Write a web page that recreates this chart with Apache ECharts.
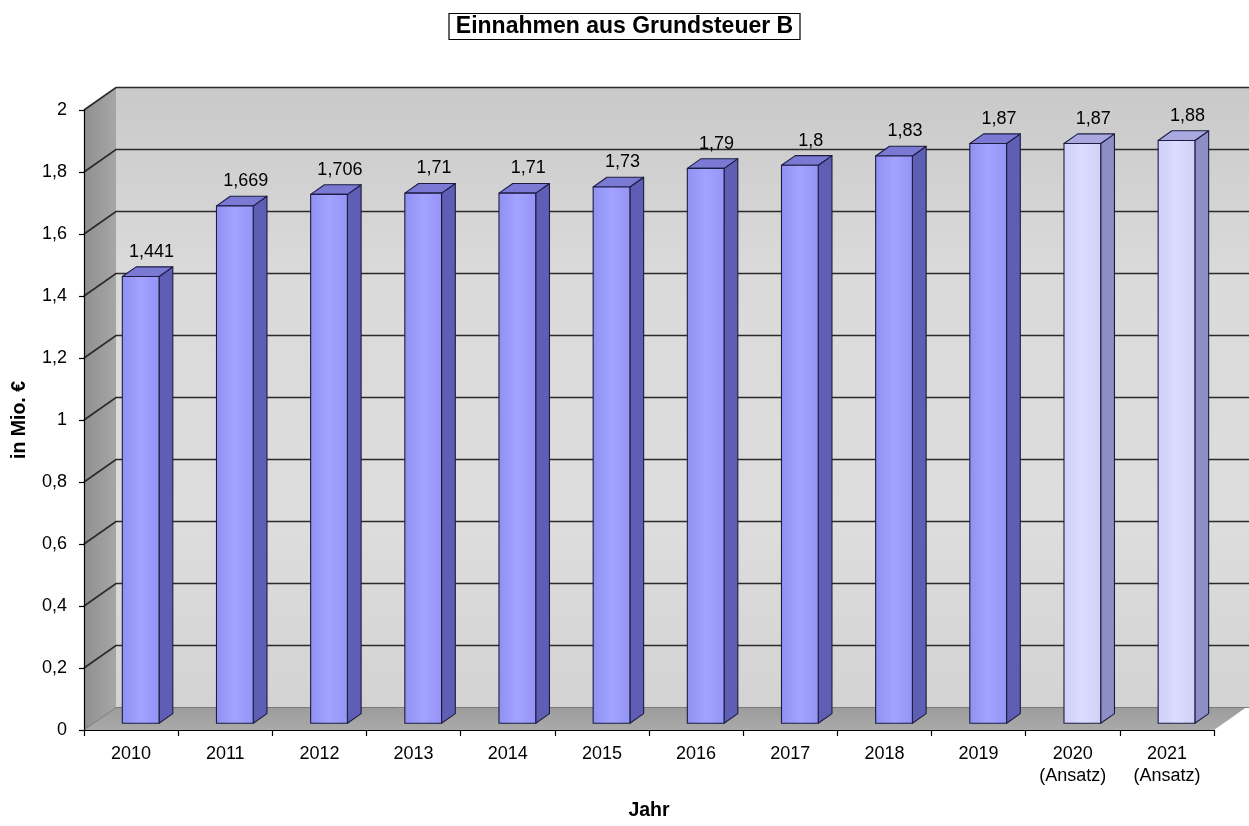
<!DOCTYPE html>
<html>
<head>
<meta charset="utf-8">
<title>Einnahmen aus Grundsteuer B</title>
<script src="https://cdn.jsdelivr.net/npm/echarts@6/dist/echarts.min.js"></script>
<style>
  html, body { margin: 0; padding: 0; background: #ffffff; }
  #chart { width: 1249px; height: 826px; }
</style>
</head>
<body>
<div id="chart"></div>
<script>
// Years (the last two are planned figures)
const years = ['2010', '2011', '2012', '2013', '2014', '2015', '2016', '2017', '2018', '2019', '2020\n(Ansatz)', '2021\n(Ansatz)'];
// Revenue in millions of euros
const revenue = [1.441, 1.669, 1.706, 1.71, 1.71, 1.73, 1.79, 1.8, 1.83, 1.87, 1.87, 1.88];
// Planned (budgeted) years are drawn in a lighter shade
const planned = [false, false, false, false, false, false, false, false, false, false, true, true];
// Value axis ticks
const yTickValues = [0, 0.2, 0.4, 0.6, 0.8, 1, 1.2, 1.4, 1.6, 1.8, 2];

const FONT = '"Liberation Sans", Arial, sans-serif';
const fmt = v => String(+(+v).toFixed(3)).replace('.', ',');

// Pseudo-3D depth offset of the back wall (pixels)
const DX = 32, DY = -22.5;
// Column depth position (fraction of the depth) and width (fraction of the band)
const BAR_FRONT = 0.3, BAR_BACK = 0.73, BAR_WIDTH = 0.39;

const actualColors = {
  front: new echarts.graphic.LinearGradient(0, 0, 1, 0, [
    { offset: 0, color: '#9090f2' }, { offset: 0.5, color: '#a2a2ff' }, { offset: 1, color: '#9494f6' }
  ]),
  side: '#5e5eb4', top: '#7a7ad4'
};
const plannedColors = {
  front: new echarts.graphic.LinearGradient(0, 0, 1, 0, [
    { offset: 0, color: '#cfcff8' }, { offset: 0.5, color: '#dcdcff' }, { offset: 1, color: '#d0d0f8' }
  ]),
  side: '#8e8ec6', top: '#a9a9e0'
};
const EDGE = '#1c1c40';

// Walls, floor and grid lines of the 3D box
function renderFrame(params, api) {
  const cs = params.coordSys;
  const x0 = cs.x, x1 = cs.x + cs.width;
  const yB = api.coord([0, yTickValues[0]])[1];
  const yT = api.coord([0, yTickValues[yTickValues.length - 1]])[1];
  const children = [];
  children.push({
    type: 'polygon',
    shape: { points: [[x0, yB], [x1, yB], [x1 + DX, yB + DY], [x0 + DX, yB + DY]] },
    style: { fill: new echarts.graphic.LinearGradient(0, 0, 0, 1, [
      { offset: 0, color: '#9c9c9c' }, { offset: 1, color: '#aaaaaa' }
    ]) }
  });
  children.push({
    type: 'polygon',
    shape: { points: [[x0 + DX, yT + DY], [x1 + DX + 10, yT + DY], [x1 + DX + 10, yB + DY], [x0 + DX, yB + DY]] },
    style: { fill: new echarts.graphic.LinearGradient(0, 0, 0, 1, [
      { offset: 0, color: '#c9c9c9' }, { offset: 0.3, color: '#dadada' },
      { offset: 0.7, color: '#dddddd' }, { offset: 1, color: '#d3d3d3' }
    ]) }
  });
  children.push({
    type: 'polygon',
    shape: { points: [[x0, yB], [x0, yT], [x0 + DX, yT + DY], [x0 + DX, yB + DY]] },
    style: { fill: new echarts.graphic.LinearGradient(0, 0, 1, 0, [
      { offset: 0, color: '#909090' }, { offset: 1, color: '#a6a6a6' }
    ]) }
  });
  yTickValues.forEach((v, k) => {
    const y = api.coord([0, v])[1];
    children.push({
      type: 'polyline',
      shape: { points: [[x0, y], [x0 + DX, y + DY], [x1 + DX + 10, y + DY]] },
      style: { stroke: k === 0 ? '#7a7a7a' : '#2a2a2a', lineWidth: k === 0 ? 1 : 1.7, fill: null }
    });
  });
  return { type: 'group', children };
}

// One pseudo-3D column: front, side and top faces plus the value label
function renderColumn(params, api) {
  const i = api.value(0), v = api.value(1);
  const top = api.coord([i, v]);
  const base = api.coord([i, 0]);
  const half = api.size([1, 0])[0] * BAR_WIDTH / 2;
  const fx = DX * BAR_FRONT, fy = DY * BAR_FRONT;
  const bx = DX * BAR_BACK, by = DY * BAR_BACK;
  const dx = bx - fx, dy = by - fy;
  const xl = top[0] - half + fx, xr = top[0] + half + fx;
  const yt = top[1] + fy, yb = base[1] + fy;
  const pal = planned[i] ? plannedColors : actualColors;
  const edge = { stroke: EDGE, lineWidth: 1.1, lineJoin: 'round' };
  return {
    type: 'group',
    children: [
      { type: 'polygon', shape: { points: [[xr, yt], [xr + dx, yt + dy], [xr + dx, yb + dy], [xr, yb]] },
        style: Object.assign({ fill: pal.side }, edge) },
      { type: 'polygon', shape: { points: [[xl, yt], [xl + dx, yt + dy], [xr + dx, yt + dy], [xr, yt]] },
        style: Object.assign({ fill: pal.top }, edge) },
      { type: 'polygon', shape: { points: [[xl, yt], [xr, yt], [xr, yb], [xl, yb]] },
        style: Object.assign({ fill: pal.front }, edge) },
      { type: 'text',
        style: {
          x: top[0] + (fx + bx) / 2 + 4, y: top[1] + by - 15,
          text: fmt(v), fill: '#000', font: '18px ' + FONT,
          align: 'center', verticalAlign: 'middle'
        } }
    ]
  };
}

const chart = echarts.init(document.getElementById('chart'), null, { renderer: 'canvas' });
chart.setOption({
  animation: false,
  backgroundColor: '#ffffff',
  title: {
    text: 'Einnahmen aus Grundsteuer B',
    left: 'center', top: 13,
    padding: [2, 7, 2, 7],
    borderColor: '#000', borderWidth: 1.2,
    textStyle: { fontFamily: FONT, fontSize: 23, fontWeight: 'bold', color: '#000' }
  },
  grid: { left: 84, right: 35, top: 110, bottom: 92.5, containLabel: false },
  xAxis: {
    type: 'category',
    data: years,
    boundaryGap: true,
    name: 'Jahr',
    nameLocation: 'middle',
    nameGap: 71,
    nameTextStyle: { fontFamily: FONT, fontSize: 19.5, fontWeight: 'bold', color: '#000' },
    axisLine: { show: true, lineStyle: { color: '#000', width: 1.2 } },
    axisTick: { show: true, interval: 0, length: 6, lineStyle: { color: '#000', width: 1.2 } },
    axisLabel: { interval: 0, margin: 13, fontFamily: FONT, fontSize: 18, color: '#000', lineHeight: 22 },
    splitLine: { show: false }
  },
  yAxis: {
    type: 'value',
    min: 0, max: 2, interval: 0.2,
    name: 'in Mio. €',
    nameLocation: 'middle',
    nameRotate: 90,
    nameGap: 54,
    nameTextStyle: { fontFamily: FONT, fontSize: 19.5, fontWeight: 'bold', color: '#000' },
    axisLine: { show: true, lineStyle: { color: '#000', width: 1.2 } },
    axisTick: { show: true, length: 5, lineStyle: { color: '#000', width: 1.2 } },
    axisLabel: { margin: 17, fontFamily: FONT, fontSize: 18, color: '#000', formatter: fmt },
    splitLine: { show: false }
  },
  series: [
    {
      type: 'custom', name: 'frame', clip: false, silent: true, z: 0,
      renderItem: renderFrame,
      data: [[0, 0]]
    },
    {
      type: 'custom', name: 'Grundsteuer B', clip: false, z: 2,
      renderItem: renderColumn,
      encode: { x: 0, y: 1 },
      data: revenue.map((v, i) => [i, v])
    }
  ]
});
</script>
</body>
</html>
